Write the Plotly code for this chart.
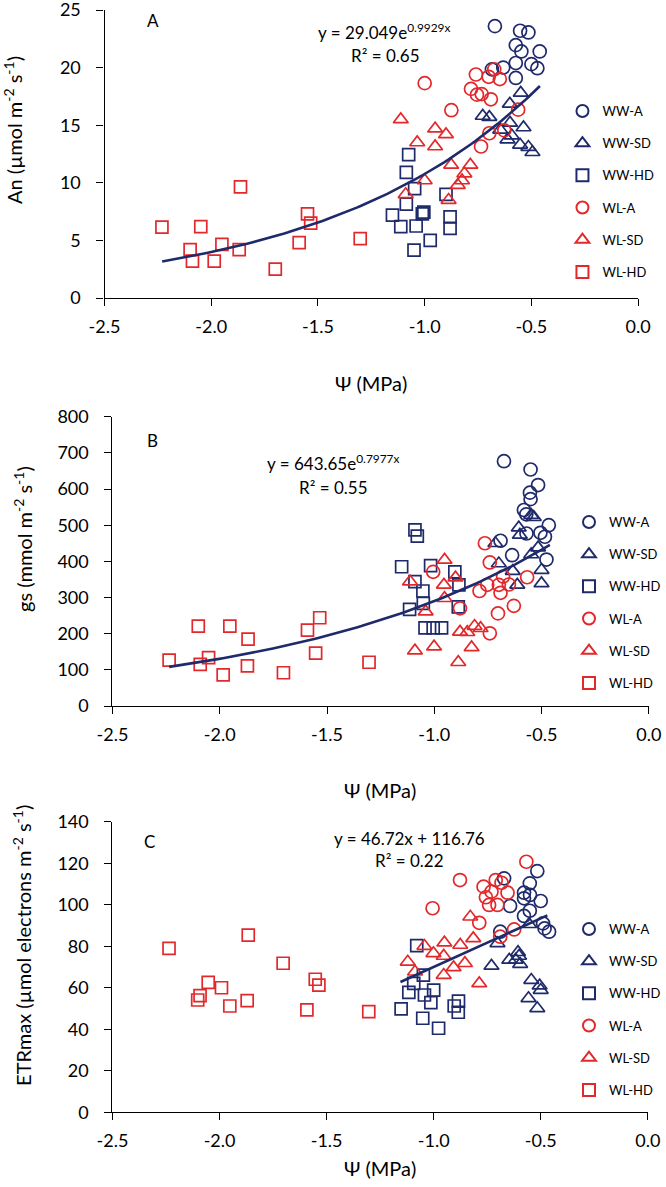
import numpy as np
import plotly.graph_objects as go

# ---------------- data ----------------
SERIES = ["WW-A", "WW-SD", "WW-HD", "WL-A", "WL-SD", "WL-HD"]

# Panel A : An
A_WW_A_x = [-0.671, -0.553, -0.514, -0.573, -0.547, -0.461, -0.573, -0.500, -0.472, -0.632, -0.685, -0.573]
A_WW_A_y = [23.6, 23.2, 23.05, 21.95, 21.4, 21.4, 20.4, 20.3, 19.95, 20.0, 19.85, 19.1]
A_WW_SD_x = [-0.550, -0.601, -0.728, -0.697, -0.600, -0.537, -0.646, -0.592, -0.612, -0.553, -0.514, -0.495]
A_WW_SD_y = [17.8, 16.85, 15.8, 15.7, 15.2, 14.8, 14.6, 14.1, 13.75, 13.3, 13.1, 12.65]
A_WW_HD_x = [-1.075, -1.086, -1.047, -1.086, -0.900, -1.151, -1.004, -1.011, -1.112, -1.040, -0.881, -0.881, -0.974, -1.050]
A_WW_HD_y = [12.45, 10.9, 9.5, 8.15, 9.0, 7.2, 7.45, 7.3, 6.2, 6.25, 7.05, 6.05, 5.0, 4.15]
A_WL_A_x = [-1.000, -0.760, -0.700, -0.674, -0.648, -0.783, -0.755, -0.733, -0.690, -0.875, -0.562, -0.697, -0.627, -0.736]
A_WL_A_y = [18.65, 19.4, 19.2, 19.85, 19.0, 18.15, 17.65, 17.7, 17.25, 16.3, 16.35, 14.3, 14.55, 13.15]
A_WL_SD_x = [-1.112, -0.951, -0.900, -1.035, -0.951, -0.876, -0.786, -0.814, -0.825, -0.845, -1.000, -1.089, -0.888]
A_WL_SD_y = [15.5, 14.7, 14.2, 13.5, 13.15, 11.55, 11.55, 10.8, 10.2, 9.8, 10.2, 9.0, 8.5]
A_WL_HD_x = [-2.231, -2.099, -2.088, -2.049, -1.986, -1.950, -1.869, -1.863, -1.700, -1.588, -1.549, -1.534, -1.302]
A_WL_HD_y = [6.15, 4.2, 3.2, 6.2, 3.2, 4.65, 4.2, 9.65, 2.5, 4.8, 7.3, 6.5, 5.15]

# Panel B : gs
B_WW_A_x = [-0.675, -0.551, -0.516, -0.554, -0.551, -0.582, -0.571, -0.466, -0.505, -0.570, -0.484, -0.691, -0.637, -0.477]
B_WW_A_y = [677, 654, 611, 590, 572, 542, 530, 500, 479, 477, 468, 457, 417, 405]
B_WW_SD_x = [-0.548, -0.536, -0.606, -0.601, -0.715, -0.516, -0.548, -0.699, -0.634, -0.500, -0.613, -0.500]
B_WW_SD_y = [528, 522, 493, 473, 450, 438, 419, 394, 373, 376, 335, 339]
B_WW_HD_x = [-1.090, -1.079, -1.152, -1.017, -0.904, -1.090, -1.053, -0.885, -1.051, -1.115, -0.888, -1.043, -1.005, -0.966]
B_WW_HD_y = [487, 470, 385, 388, 371, 344, 318, 335, 284, 267, 274, 216, 216, 216]
B_WL_A_x = [-0.764, -0.741, -1.005, -0.567, -0.679, -0.753, -0.699, -0.652, -0.789, -0.691, -0.880, -0.629, -0.703, -0.741]
B_WL_A_y = [450, 397, 371, 356, 358, 335, 335, 336, 318, 313, 270, 277, 256, 201]
B_WL_SD_x = [-0.952, -0.901, -1.113, -0.955, -0.952, -1.040, -0.880, -0.846, -0.812, -0.784, -1.090, -1.001, -0.826, -0.888]
B_WL_SD_y = [404, 355, 344, 335, 298, 261, 205, 204, 221, 215, 153, 164, 162, 121]
B_WL_HD_x = [-2.236, -2.100, -2.091, -2.052, -1.984, -1.953, -1.868, -1.871, -1.703, -1.591, -1.534, -1.553, -1.304]
B_WL_HD_y = [127, 221, 115, 134, 86, 221, 185, 111, 92, 210, 244, 146, 121]

# Panel C : ETRmax
C_WW_A_x = [-0.516, -0.551, -0.671, -0.578, -0.550, -0.578, -0.500, -0.643, -0.551, -0.578, -0.489, -0.482, -0.461, -0.689]
C_WW_A_y = [116.2, 110.3, 112.7, 105.8, 104.7, 103.1, 101.8, 99.4, 97.1, 94.6, 91.0, 88.6, 87.0, 87.0]
C_WW_SD_x = [-0.554, -0.702, -0.606, -0.601, -0.617, -0.647, -0.596, -0.730, -0.544, -0.505, -0.500, -0.557, -0.516]
C_WW_SD_y = [90.6, 81.4, 77.1, 75.3, 73.4, 73.4, 71.4, 70.5, 63.7, 61.0, 58.9, 54.9, 50.1]
C_WW_HD_x = [-1.079, -1.048, -1.093, -1.116, -1.000, -1.043, -1.013, -1.152, -0.904, -0.884, -0.885, -1.051, -0.977]
C_WW_HD_y = [80.3, 66.1, 62.1, 57.8, 58.9, 56.5, 52.8, 49.8, 51.2, 53.6, 48.2, 45.3, 40.5]
C_WL_A_x = [-0.567, -0.877, -0.710, -0.683, -0.767, -0.730, -0.655, -0.756, -0.741, -0.702, -1.005, -0.787, -0.624, -0.689]
C_WL_A_y = [120.7, 111.9, 111.9, 110.6, 108.7, 106.3, 105.8, 103.6, 99.9, 99.9, 98.3, 91.3, 88.1, 84.6]
C_WL_SD_x = [-0.829, -0.815, -0.950, -1.043, -0.876, -1.001, -0.953, -0.854, -0.907, -1.121, -1.087, -0.953, -0.787]
C_WL_SD_y = [94.2, 83.8, 81.7, 80.1, 80.6, 76.6, 75.3, 71.8, 69.8, 72.5, 67.7, 66.1, 62.1]
C_WL_HD_x = [-2.236, -2.102, -2.091, -2.053, -1.991, -1.952, -1.871, -1.866, -1.703, -1.592, -1.553, -1.536, -1.303]
C_WL_HD_y = [79.0, 54.1, 56.2, 62.6, 60.0, 51.2, 53.8, 85.4, 71.8, 49.3, 64.1, 61.3, 48.5]

# trend lines (coefficients as printed on the chart)
A_FIT = (29.049, 0.9929)      # y = a*exp(b*x)
A_FIT_RANGE = (-2.23, -0.46)
B_FIT = (643.65, 0.7977)
B_FIT_RANGE = (-2.236, -0.461)
C_FIT = (46.72, 116.76)       # y = m*x + c
C_FIT_RANGE = (-1.155, -0.469)

X_TICKS = [-2.5, -2.0, -1.5, -1.0, -0.5, 0.0]
X_TICK_TEXT = ["-2.5", "-2.0", "-1.5", "-1.0", "-0.5", "0.0"]
A_Y_TICKS = [0, 5, 10, 15, 20, 25]
B_Y_TICKS = [0, 100, 200, 300, 400, 500, 600, 700, 800]
C_Y_TICKS = [0, 20, 40, 60, 80, 100, 120, 140]

# ---------------- style ----------------
W, H = 666, 1187
NAVY = "#1f2a6b"
RED = "#e3282b"
FONT = "Lato"
STYLE = {
    "WW-A": ("circle-open", NAVY, 13),
    "WW-SD": ("triangle-up-open", NAVY, 13),
    "WW-HD": ("square-open", NAVY, 12),
    "WL-A": ("circle-open", RED, 13),
    "WL-SD": ("triangle-up-open", RED, 13),
    "WL-HD": ("square-open", RED, 12),
}

panels = {
    "A": dict(xs=[A_WW_A_x, A_WW_SD_x, A_WW_HD_x, A_WL_A_x, A_WL_SD_x, A_WL_HD_x],
              ys=[A_WW_A_y, A_WW_SD_y, A_WW_HD_y, A_WL_A_y, A_WL_SD_y, A_WL_HD_y]),
    "B": dict(xs=[B_WW_A_x, B_WW_SD_x, B_WW_HD_x, B_WL_A_x, B_WL_SD_x, B_WL_HD_x],
              ys=[B_WW_A_y, B_WW_SD_y, B_WW_HD_y, B_WL_A_y, B_WL_SD_y, B_WL_HD_y]),
    "C": dict(xs=[C_WW_A_x, C_WW_SD_x, C_WW_HD_x, C_WL_A_x, C_WL_SD_x, C_WL_HD_x],
              ys=[C_WW_A_y, C_WW_SD_y, C_WW_HD_y, C_WL_A_y, C_WL_SD_y, C_WL_HD_y]),
}

def px(x):
    return x / W

def py(y):
    return 1 - y / H

fig = go.Figure()
axis_ids = {"A": ("x", "y", "legend"), "B": ("x2", "y2", "legend2"), "C": ("x3", "y3", "legend3")}

for key, p in panels.items():
    xa, ya, lg = axis_ids[key]
    for name, xv, yv in zip(SERIES, p["xs"], p["ys"]):
        sym, col, size = STYLE[name]
        fig.add_trace(go.Scatter(
            x=xv, y=yv, mode="markers", name=name, xaxis=xa, yaxis=ya,
            legend=lg, legendgroup=key + name,
            marker=dict(symbol=sym, size=size, color=col, line=dict(color=col, width=1.7)),
            cliponaxis=False,
        ))

# trend lines
xa_ = np.linspace(A_FIT_RANGE[0], A_FIT_RANGE[1], 100)
fig.add_trace(go.Scatter(x=xa_, y=A_FIT[0] * np.exp(A_FIT[1] * xa_), mode="lines",
                         line=dict(color=NAVY, width=2.6), showlegend=False, xaxis="x", yaxis="y"))
xb_ = np.linspace(B_FIT_RANGE[0], B_FIT_RANGE[1], 100)
fig.add_trace(go.Scatter(x=xb_, y=B_FIT[0] * np.exp(B_FIT[1] * xb_), mode="lines",
                         line=dict(color=NAVY, width=2.6), showlegend=False, xaxis="x2", yaxis="y2"))
xc_ = np.array(C_FIT_RANGE)
fig.add_trace(go.Scatter(x=xc_, y=C_FIT[0] * xc_ + C_FIT[1], mode="lines",
                         line=dict(color=NAVY, width=2.6), showlegend=False, xaxis="x3", yaxis="y3"))

# geometry (pixels)
geo = {
    "A": dict(l=105, r=641, t=10, b=298),
    "B": dict(l=113, r=651.7, t=416.7, b=706),
    "C": dict(l=113, r=650.7, t=821.7, b=1112.3),
}
yranges = {"A": ([0, 25], A_Y_TICKS), "B": ([0, 800], B_Y_TICKS), "C": ([0, 140], C_Y_TICKS)}

common_axis = dict(showline=True, linecolor="black", linewidth=1.3, ticks="outside",
                   ticklen=7, tickwidth=1.3, tickcolor="black", showgrid=False, zeroline=False,
                   automargin=False, ticklabeloverflow="allow",
                   tickfont=dict(family=FONT, size=18, color="black"), fixedrange=True)

layout = dict(template="none", width=W, height=H, autosize=False,
              margin=dict(l=0, r=0, t=0, b=0, pad=0),
              paper_bgcolor="white", plot_bgcolor="white", font=dict(family=FONT, color="black"))

for key, (xa, ya, lg) in axis_ids.items():
    g = geo[key]
    xname = "xaxis" if xa == "x" else "xaxis" + xa[1:]
    yname = "yaxis" if ya == "y" else "yaxis" + ya[1:]
    layout[xname] = dict(common_axis, domain=[px(g["l"]), px(g["r"])], range=[-2.5, 0],
                         tickvals=X_TICKS, ticktext=X_TICK_TEXT, anchor=ya, ticklabelstandoff=5)
    layout[yname] = dict(common_axis, domain=[py(g["b"]), py(g["t"])], range=yranges[key][0],
                         tickvals=yranges[key][1], anchor=xa, ticklabelstandoff=12)

legend_common = dict(font=dict(family=FONT, size=13, color="black"), bgcolor="rgba(0,0,0,0)",
                     xanchor="left", yanchor="top", tracegroupgap=12.3, itemsizing="constant",
                     borderwidth=0)
layout["legend"] = dict(legend_common, x=px(565), y=py(96))
layout["legend2"] = dict(legend_common, x=px(572), y=py(507))
layout["legend3"] = dict(legend_common, x=px(572), y=py(914))

fig.update_layout(**layout)

def ann(text, x, y, size, angle=0):
    fig.add_annotation(text=text, x=px(x), y=py(y), xref="paper", yref="paper",
                       showarrow=False, xanchor="center", yanchor="middle", textangle=angle,
                       font=dict(family=FONT, size=size, color="black"))

# panel letters
ann("A", 154, 20, 17)
ann("B", 153, 440, 17)
ann("C", 150, 841, 17)
# equations
ann("y = 29.049e<sup>0.9929x</sup>", 386, 31, 17)
ann("R² = 0.65", 387, 55, 17)
ann("y = 643.65e<sup>0.7977x</sup>", 335, 462, 17)
ann("R² = 0.55", 335, 487, 17)
ann("y = 46.72x + 116.76", 411, 838, 17)
ann("R² = 0.22", 411, 860, 17)
# axis titles
ann("Ψ (MPa)", 373, 383, 20)
ann("Ψ (MPa)", 382, 790, 20)
ann("Ψ (MPa)", 382, 1168, 20)
ann("An (µmol m<sup>-2</sup> s<sup>-1</sup>)", 13, 130, 20, -90)
ann("gs (mmol m<sup>-2</sup> s<sup>-1</sup>)", 23, 539, 20, -90)
ann("ETRmax (µmol electrons m<sup>-2</sup> s<sup>-1</sup>)", 22, 945, 20, -90)

fig.write_html("out.html", config={"displayModeBar": False},
               post_script="document.body.style.margin='0px';document.body.style.overflow='hidden';")
